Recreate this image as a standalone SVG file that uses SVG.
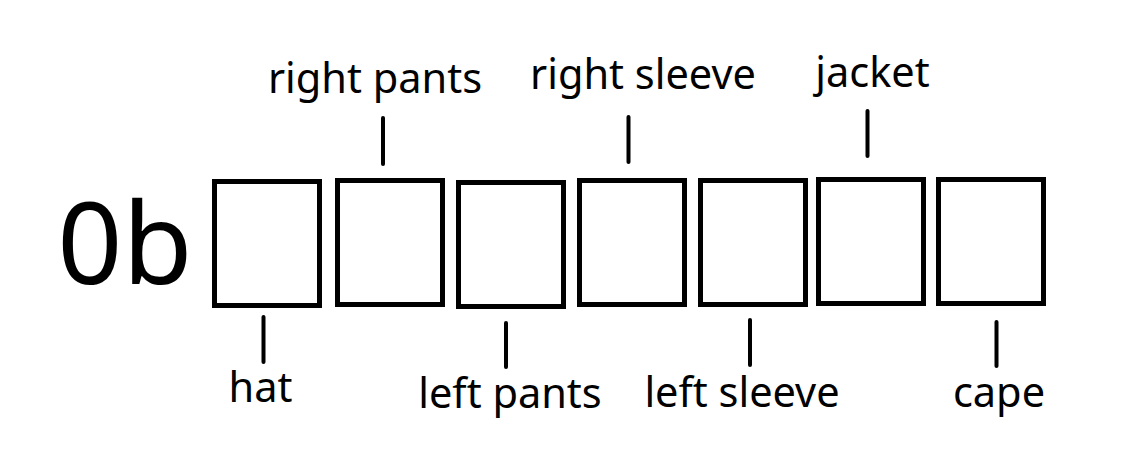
<svg xmlns="http://www.w3.org/2000/svg" width="1142" height="463" viewBox="0 0 1142 463">
<style>
.box{fill:#fff;stroke:#000;stroke-width:5}
.lbl{font-family:"Noto Sans","Liberation Sans",sans-serif;font-size:41.5px;fill:#000;text-anchor:middle}
.big{font-family:"Noto Sans","Liberation Sans",sans-serif;font-size:114px;fill:#000;text-anchor:middle}
.conn line{stroke:#000;stroke-width:4;stroke-linecap:round}
</style>
<rect width="1142" height="463" fill="#fff"/>
<g id="prefix"><text class="big" x="125" y="284">0b</text></g>
<g id="bit-hat"><rect class="box" x="214.5" y="181.5" width="105" height="124"/><text class="lbl" x="260.5" y="402">hat</text></g>
<g id="bit-right-pants"><rect class="box" x="337.5" y="180.5" width="105" height="124"/><text class="lbl" x="375" y="93">right pants</text></g>
<g id="bit-left-pants"><rect class="box" x="458.5" y="182.5" width="105" height="124"/><text class="lbl" x="510" y="408">left pants</text></g>
<g id="bit-right-sleeve"><rect class="box" x="579.5" y="180.5" width="105" height="124"/><text class="lbl" x="643" y="89">right sleeve</text></g>
<g id="bit-left-sleeve"><rect class="box" x="700.5" y="180.5" width="105" height="124"/><text class="lbl" x="742" y="407">left sleeve</text></g>
<g id="bit-jacket"><rect class="box" x="818.5" y="179.5" width="105" height="124"/><text class="lbl" x="872.5" y="87">jacket</text></g>
<g id="bit-cape"><rect class="box" x="938.5" y="179.5" width="105" height="124"/><text class="lbl" x="999" y="407">cape</text></g>
<g id="connectors" class="conn">
<line x1="383" y1="118" x2="383" y2="164"/>
<line x1="628.5" y1="117" x2="628.5" y2="162"/>
<line x1="867.5" y1="111" x2="867.5" y2="156"/>
<line x1="263.5" y1="317" x2="263.5" y2="362"/>
<line x1="506" y1="323" x2="506" y2="367"/>
<line x1="750" y1="320" x2="750" y2="365"/>
<line x1="996.5" y1="322" x2="996.5" y2="366"/>
</g>
</svg>
